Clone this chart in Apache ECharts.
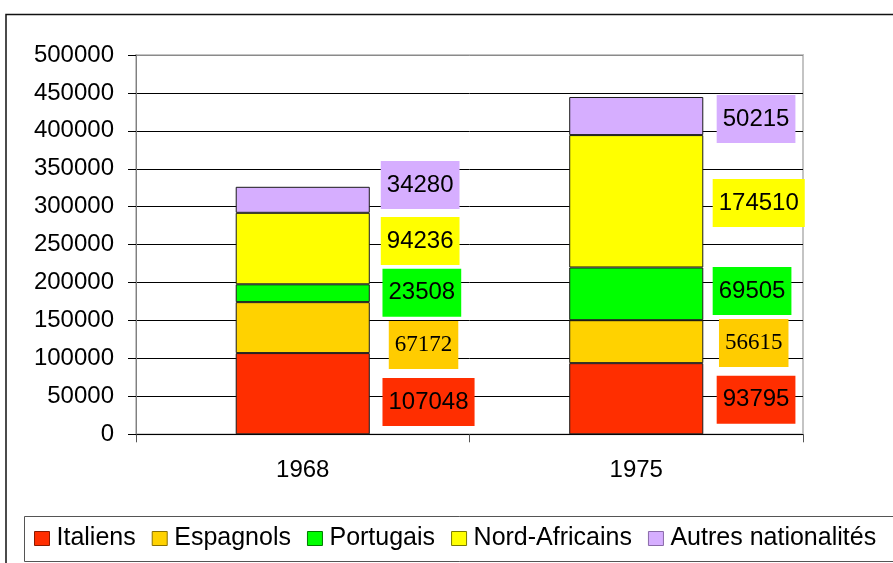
<!DOCTYPE html>
<html>
<head>
<meta charset="utf-8">
<script src="https://cdn.jsdelivr.net/npm/echarts@6/dist/echarts.min.js"></script>
<style>
  html, body { margin: 0; padding: 0; background: #fff; }
  #chart { width: 893px; height: 563px; }
</style>
</head>
<body>
<div id="chart"></div>
<script>
// Immigrant population by nationality, 1968 and 1975
const years = ['1968', '1975'];
const seriesNames = ['Italiens', 'Espagnols', 'Portugais', 'Nord-Africains', 'Autres nationalités'];
const italiens = [107048, 93795];
const espagnols = [67172, 56615];
const portugais = [23508, 69505];
const nordAfricains = [94236, 174510];
const autres = [34280, 50215];
const yTicks = [0, 50000, 100000, 150000, 200000, 250000, 300000, 350000, 400000, 450000, 500000];

const values = [italiens, espagnols, portugais, nordAfricains, autres];
const colors = ['#FF2E00', '#FFD200', '#00FF00', '#FFFF00', '#D6AEFF'];
const legendBorders = ['#8a1a00', '#8a7000', '#007a00', '#7a7a00', '#8a6aa8'];

// Where each value box sits relative to the right edge / middle of its segment
const labelNudge = [
  [[12.7, 8.3], [13.4, 1]],
  [[19, 17.4], [15.7, 1.3]],
  [[12.7, -0.5], [9.4, -2.8]],
  [[11, -7.6], [9.4, 1.7]],
  [[11, -14.8], [13.4, 3]]
];

const sans = '"Liberation Sans", Arial, sans-serif';
const serif = '"Liberation Serif", "Times New Roman", serif';

const series = seriesNames.map((name, i) => ({
  name: name,
  type: 'bar',
  stack: 'total',
  barWidth: '40.2%',
  itemStyle: { color: colors[i], borderColor: '#1a1a1a', borderWidth: 1 },
  emphasis: { disabled: true },
  label: {
    show: true,
    position: 'right',
    distance: 0,
    formatter: '{c}',
    color: '#000',
    fontFamily: i === 1 ? serif : sans,
    fontSize: i === 1 ? 23 : 24,
    lineHeight: 24,
    backgroundColor: i === 1 ? '#FFCC00' : colors[i],
    padding: [12, 6]
  },
  data: values[i].map((v, j) => ({
    value: v,
    label: { offset: labelNudge[i][j] }
  }))
}));

const splitColors = yTicks.map((t, k) => (k === yTicks.length - 1 ? '#8a8a8a' : '#000'));

const chart = echarts.init(document.getElementById('chart'), null, { renderer: 'canvas' });
chart.setOption({
  animation: false,
  backgroundColor: '#fff',
  textStyle: { fontFamily: sans },
  grid: {
    left: 136, right: 90, top: 55, bottom: 128.7,
    show: true, borderColor: '#c4c4c4', borderWidth: 2, backgroundColor: 'transparent'
  },
  legend: {
    data: seriesNames.map((n, i) => ({
      name: n,
      itemStyle: { color: colors[i], borderColor: legendBorders[i], borderWidth: 1 }
    })),
    left: 34,
    top: 526,
    icon: 'rect',
    itemWidth: 15,
    itemHeight: 14,
    itemGap: 16,
    padding: 0,
    selectedMode: false,
    textStyle: { fontFamily: sans, fontSize: 25, color: '#000', padding: [0, 0, 0, 2] }
  },
  xAxis: {
    type: 'category',
    data: years,
    axisLine: { lineStyle: { color: '#000', width: 1 } },
    axisTick: { show: true, length: 8, lineStyle: { color: '#555' } },
    axisLabel: { fontFamily: sans, fontSize: 24, color: '#000', margin: 24 }
  },
  yAxis: {
    type: 'value',
    min: 0,
    max: 500000,
    interval: 50000,
    axisLine: { show: true, lineStyle: { color: '#808080', width: 1 } },
    axisTick: { show: true, length: 8, lineStyle: { color: '#000' } },
    axisLabel: {
      fontFamily: sans, fontSize: 24, color: '#000', margin: 22,
      formatter: (v) => String(v)
    },
    splitLine: { show: true, lineStyle: { color: splitColors, width: 1 } }
  },
  graphic: [
    {
      type: 'rect',
      shape: { x: 6, y: 14.5, width: 1000, height: 1000 },
      style: { fill: 'none', stroke: '#111', lineWidth: 1.5 },
      silent: true
    },
    {
      type: 'rect',
      shape: { x: 24.5, y: 516.5, width: 1000, height: 45 },
      style: { fill: 'none', stroke: '#555', lineWidth: 1 },
      silent: true
    }
  ],
  series: series
});
</script>
</body>
</html>
